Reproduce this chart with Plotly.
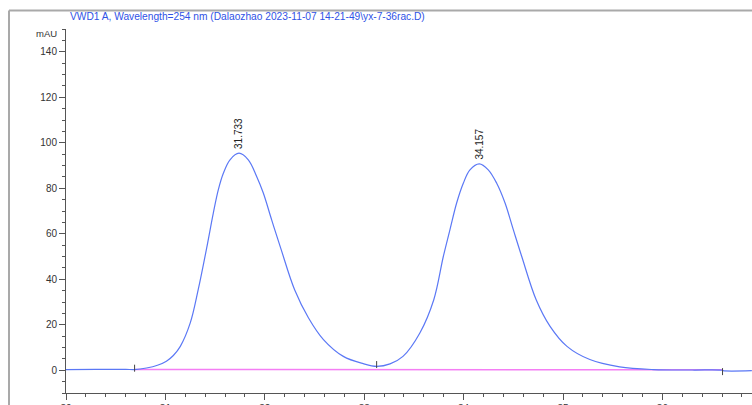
import plotly.graph_objects as go

# ---- data ----
time_min = [30.00, 30.30, 30.60, 30.69, 30.81, 30.92, 31.01, 31.08, 31.15, 31.25,
            31.33, 31.415, 31.482, 31.532, 31.583, 31.65, 31.74, 31.834, 31.918, 31.985,
            32.069, 32.16, 32.30, 32.44, 32.59, 32.79, 32.99, 33.125, 33.26, 33.39,
            33.56, 33.70, 33.796, 33.863, 33.93, 33.997, 34.064, 34.158, 34.248, 34.333,
            34.417, 34.50, 34.585, 34.73, 34.87, 35.04, 35.27, 35.57, 35.91, 36.30,
            36.60, 36.61, 36.90]
signal_mau = [0.3, 0.4, 0.4, 0.3, 1.0, 2.2, 4.0, 6.5, 10.5, 20.8,
              35.4, 53.7, 69.1, 79.3, 86.6, 92.5, 95.4, 92.5, 85.2, 77.9,
              66.1, 53.7, 35.4, 23.0, 13.5, 6.1, 2.9, 1.7, 2.8, 6.1,
              16.4, 31.0, 50.0, 61.8, 73.5, 82.2, 88.1, 90.7, 88.1, 82.2,
              73.5, 61.8, 50.0, 31.0, 19.3, 10.5, 4.7, 1.5, 0.3, 0.1,
              0.0, -0.2, -0.2]

baseline_time = [30.69, 36.605]
baseline_mau = [0.3, 0.2]

event_time = [30.69, 33.125, 36.605]
event_mau = [0.9, 2.5, -0.6]

peak_rt = [31.733, 34.157]
peak_height = [95.4, 90.7]
peak_labels = ["31.733", "34.157"]

title_text = "VWD1 A, Wavelength=254 nm (Dalaozhao 2023-11-07 14-21-49\\yx-7-36rac.D)"
y_unit = "mAU"

# ---- layout geometry (pixels) ----
W, H = 752, 405
ML, MR, MT, MB = 66, 0, 29, 11.5
PW, PH = W - ML - MR, H - MT - MB


def px_x(x):
    return (x - ML) / PW


def px_y(y):
    return (H - MB - y) / PH


FONT = "Liberation Sans, Arial, sans-serif"

fig = go.Figure()
fig.add_trace(go.Scatter(x=baseline_time, y=baseline_mau, mode="lines",
                         line=dict(color="#f47ef4", width=1.5), hoverinfo="skip"))
fig.add_trace(go.Scatter(x=time_min, y=signal_mau, mode="lines",
                         line=dict(color="#5b78f5", width=1.2, shape="spline", smoothing=1.0)))
fig.add_trace(go.Scatter(x=event_time, y=event_mau, mode="markers",
                         marker=dict(symbol="line-ns", size=5,
                                     line=dict(color="#444444", width=1))))

for rt, h, lab in zip(peak_rt, peak_height, peak_labels):
    fig.add_annotation(x=rt, y=h, text=lab, textangle=-90, showarrow=False,
                       xanchor="center", yanchor="bottom", yshift=2,
                       font=dict(family=FONT, size=10, color="#222222"))

fig.add_annotation(xref="paper", yref="paper", x=px_x(247), y=px_y(16), text=title_text,
                   showarrow=False, xanchor="center", yanchor="middle",
                   font=dict(family=FONT, size=10.2, color="#2f52e6"))
fig.add_annotation(xref="paper", yref="paper", x=px_x(59), y=px_y(34), text=y_unit,
                   showarrow=False, xanchor="right", yanchor="middle",
                   font=dict(family=FONT, size=9.5, color="#333333"))

frame = dict(color="#a9a9a9", width=2)
fig.add_shape(type="line", xref="paper", yref="paper", x0=px_x(9), x1=px_x(W + 2),
              y0=px_y(10.5), y1=px_y(10.5), line=frame)
fig.add_shape(type="line", xref="paper", yref="paper", x0=px_x(9), x1=px_x(9),
              y0=px_y(10.5), y1=px_y(H + 2), line=frame)

axis_common = dict(showgrid=False, zeroline=False, showline=True, linecolor="#555555",
                   linewidth=1, ticks="outside", ticklen=6, tickcolor="#555555",
                   tickwidth=1, automargin=False,
                   tickfont=dict(family=FONT, size=10, color="#333333"))

fig.update_layout(
    width=W, height=H,
    margin=dict(l=ML, r=MR, t=MT, b=MB, pad=0),
    paper_bgcolor="white", plot_bgcolor="white",
    showlegend=False,
    xaxis=dict(range=[30, 30 + PW / 99.4], dtick=1, tick0=30,
               minor=dict(dtick=0.2, ticks="outside", ticklen=3, tickcolor="#555555"),
               **axis_common),
    yaxis=dict(range=[-10, 150], dtick=20, tick0=0,
               minor=dict(dtick=5, ticks="outside", ticklen=3, tickcolor="#555555"),
               **axis_common),
)

fig.write_html("out.html", config={"displayModeBar": False},
               post_script="document.body.style.margin='0';document.body.style.overflow='hidden';")
